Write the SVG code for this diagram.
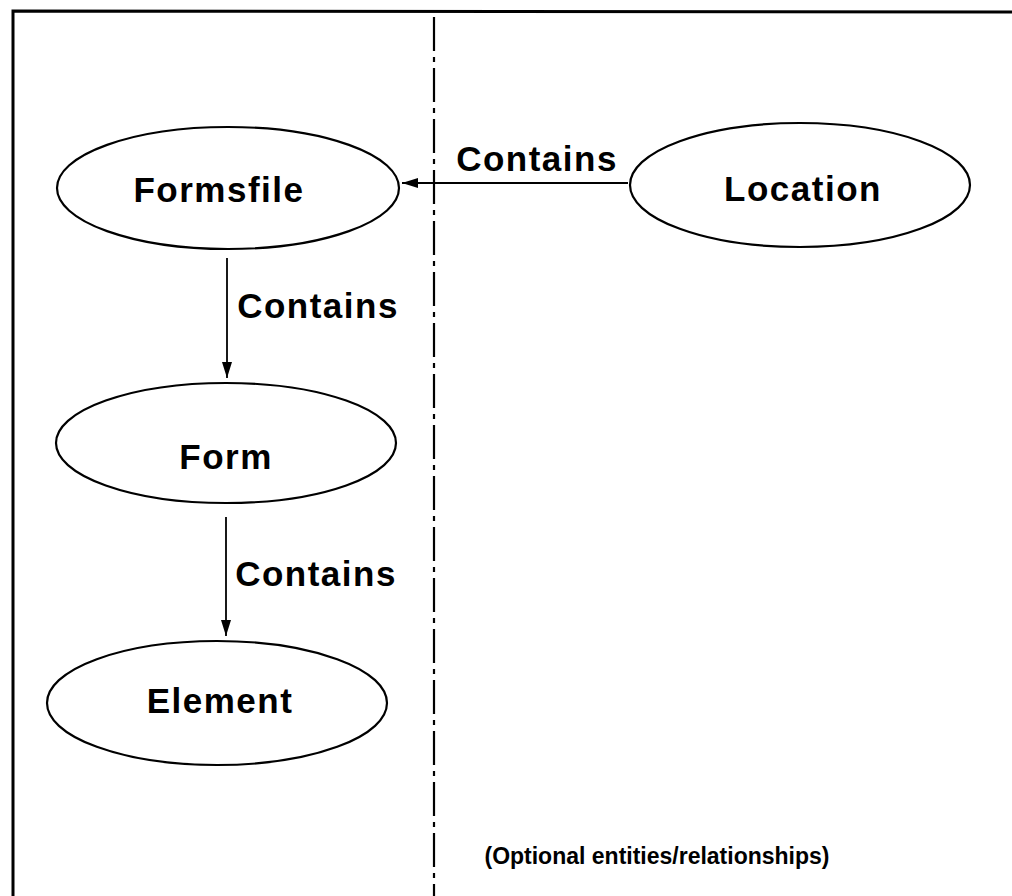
<svg xmlns="http://www.w3.org/2000/svg" width="1012" height="896" viewBox="0 0 1012 896">
  <style>
    .frame { fill: none; stroke: #000; stroke-width: 3; }
    .divider { fill: none; stroke: #000; stroke-width: 2.2; stroke-dasharray: 34 6 5 6; }
    .entity { fill: #fff; stroke: #000; stroke-width: 2.2; }
    .name { font-family: "Liberation Sans", Arial, sans-serif; font-weight: bold; font-size: 35px; letter-spacing: 1.5px; text-anchor: middle; fill: #000; }
    .rel { font-family: "Liberation Sans", Arial, sans-serif; font-weight: bold; font-size: 35px; letter-spacing: 1.5px; text-anchor: middle; fill: #000; }
    .note { font-family: "Liberation Sans", Arial, sans-serif; font-weight: bold; font-size: 23px; text-anchor: middle; fill: #000; }
    .link { fill: none; stroke: #000; stroke-width: 1.8; }
  </style>
  <defs>
    <marker id="arrow" viewBox="0 0 16 10" refX="16" refY="5" markerWidth="16" markerHeight="10" markerUnits="userSpaceOnUse" orient="auto">
      <path d="M0,0 L16,5 L0,10 Z" fill="#000"/>
    </marker>
  </defs>

  <rect width="1012" height="896" fill="#fff"/>

  <!-- outer frame: top and left edges only -->
  <path class="frame" d="M13,896 L13,11 L1012,12"/>

  <!-- divider between required and optional parts -->
  <line class="divider" x1="434" y1="17" x2="434" y2="896"/>

  <g id="connectors">
    <line class="link" x1="628" y1="183" x2="402" y2="183" marker-end="url(#arrow)"/>
    <text class="rel" x="537" y="171">Contains</text>
    <line class="link" x1="227" y1="258" x2="227" y2="378" marker-end="url(#arrow)"/>
    <text class="rel" x="318" y="318">Contains</text>
    <line class="link" x1="226" y1="517" x2="226" y2="636" marker-end="url(#arrow)"/>
    <text class="rel" x="316" y="586">Contains</text>
  </g>

  <g id="formsfile">
    <ellipse class="entity" cx="228" cy="188" rx="171" ry="61"/>
    <text class="name" x="219" y="202">Formsfile</text>
  </g>

  <g id="location">
    <ellipse class="entity" cx="800" cy="185" rx="170" ry="62"/>
    <text class="name" x="803" y="201">Location</text>
  </g>

  <g id="form">
    <ellipse class="entity" cx="226" cy="443" rx="170" ry="60"/>
    <text class="name" x="226" y="469">Form</text>
  </g>

  <g id="element">
    <ellipse class="entity" cx="217" cy="703" rx="170" ry="62"/>
    <text class="name" x="220" y="713">Element</text>
  </g>

  <text class="note" x="657" y="864">(Optional entities/relationships)</text>
</svg>
